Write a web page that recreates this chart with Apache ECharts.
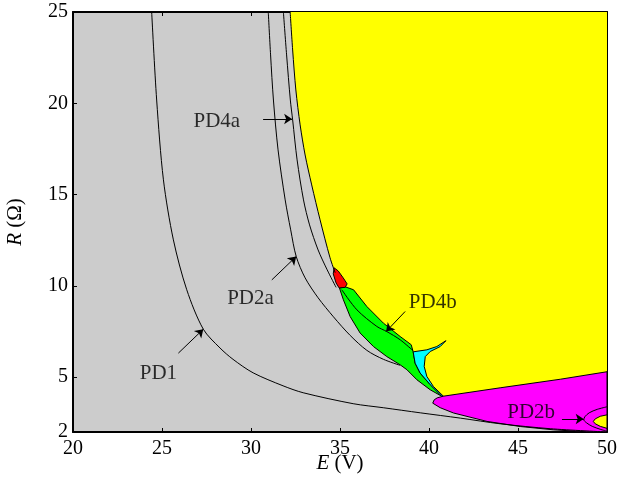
<!DOCTYPE html>
<html>
<head>
<meta charset="utf-8">
<script src="https://cdn.jsdelivr.net/npm/echarts@6/dist/echarts.min.js"></script>
<style>
  html, body { margin: 0; padding: 0; background: #fff; }
  #chart { width: 617px; height: 483px; }
</style>
</head>
<body>
<div id="chart"></div>
<script>
// axis ticks
var xTicks = [20, 25, 30, 35, 40, 45, 50];
var yLabels = [2, 5, 10, 15, 20, 25];
var yTicks = [5, 10, 15, 20];

// region boundaries, [E (V), R (ohm)]
var yellowEdge = [
  [32.20, 25.00], [32.34, 22.92], [32.52, 20.73], [32.76, 18.82], [33.04, 17.17],
  [33.41, 15.53], [33.88, 13.62], [34.44, 11.54], [34.73, 10.72]
];
var greenLower = [
  [34.97, 9.88], [35.19, 9.24], [35.57, 8.32], [36.13, 7.42], [36.88, 6.68],
  [37.63, 6.13], [38.38, 5.68], [38.76, 5.41], [39.32, 4.86], [40.07, 4.31], [40.73, 3.95]
];
var greenUpper = [
  [35.29, 9.95], [35.76, 9.79], [36.51, 8.87], [37.44, 7.96], [38.38, 7.23], [39.00, 6.78], [39.11, 6.39]
];
var cyanLeft = [[39.11, 6.39], [39.22, 5.77], [39.50, 5.23], [40.07, 4.59], [40.73, 3.95]];
var cyanRight = [
  [39.88, 6.50], [40.44, 6.68], [40.95, 7.00], [40.63, 6.68], [40.07, 6.41], [39.79, 6.13],
  [39.73, 5.59], [39.88, 5.04], [40.25, 4.49], [40.82, 3.95]
];
var redPatch = [
  [34.67, 10.99], [34.90, 10.82], [35.18, 10.44], [35.40, 10.11], [35.29, 9.92],
  [34.95, 9.89], [34.78, 10.16], [34.62, 10.66]
];
var magentaUpper = [[40.80, 3.96], [44.00, 4.42], [47.38, 4.89], [50.00, 5.30]];
var magentaLower = [
  [50.00, 2.00], [48.87, 2.01], [46.98, 2.12], [45.13, 2.30], [43.26, 2.58], [41.38, 3.04],
  [40.63, 3.33], [40.21, 3.58], [40.29, 3.76], [40.46, 3.87]
];

// bifurcation curves
var pd1Curve = [
  [24.42, 25.00], [24.70, 20.18], [25.08, 15.81], [25.64, 12.52], [26.39, 9.79], [27.32, 7.63],
  [28.26, 6.60], [28.99, 5.98], [30.12, 5.24], [31.80, 4.53], [32.93, 4.15], [35.74, 3.55],
  [37.43, 3.33], [39.51, 3.05], [41.76, 2.76], [44.00, 2.45], [46.81, 2.18], [50.00, 2.00]
];
var pd2aCurve = [
  [30.97, 25.00], [31.10, 22.65], [31.26, 20.18], [31.52, 17.45], [31.92, 14.71], [32.23, 13.07],
  [32.54, 11.61], [33.04, 10.44], [33.77, 9.35], [34.63, 8.31], [35.57, 7.29], [36.51, 6.47],
  [37.44, 5.98], [38.38, 5.65]
];
var pd4aCurve = [
  [31.82, 25.00], [32.00, 22.65], [32.21, 20.18], [32.34, 19.09], [32.59, 16.90], [32.95, 14.71],
  [33.29, 13.34], [33.77, 11.97], [34.28, 10.88], [34.78, 9.92]
];
var pd4bCurve = [[35.10, 9.79], [35.95, 8.69], [37.07, 7.78], [37.63, 7.50], [38.38, 7.05], [39.11, 6.45]];
var pd2bOuter = [
  [50.00, 3.38], [49.45, 3.24], [49.00, 3.05], [48.75, 2.83], [48.70, 2.67], [48.84, 2.51],
  [49.17, 2.31], [49.62, 2.15], [50.00, 2.04]
];
var pd2bInner = [
  [50.00, 2.94], [49.62, 2.86], [49.34, 2.72], [49.23, 2.58], [49.34, 2.45], [49.62, 2.31], [50.00, 2.20]
];

// annotations
var labelNames = ['PD4a', 'PD2a', 'PD1', 'PD4b', 'PD2b'];
var labelAt = [[28.08, 19.03], [29.97, 9.29], [24.80, 5.19], [40.21, 9.07], [45.74, 3.08]];
var arrowFrom = [[30.68, 19.14], [31.17, 10.33], [25.92, 6.32], [38.66, 8.60], [47.47, 2.71]];
var arrowTo = [[32.31, 19.14], [32.54, 11.61], [27.32, 7.63], [37.59, 7.50], [48.69, 2.71]];

var serif = 'Liberation Serif';

function polygon(pts, color, stroke) {
  return {
    type: 'custom',
    coordinateSystem: 'cartesian2d',
    data: [[35, 10]],
    silent: true,
    clip: true,
    renderItem: function (params, api) {
      return {
        type: 'polygon',
        shape: { points: pts.map(function (p) { return api.coord(p); }) },
        style: { fill: color, stroke: stroke === false ? null : '#000', lineWidth: 1 }
      };
    }
  };
}

function curve(pts) {
  return {
    type: 'line',
    data: pts,
    showSymbol: false,
    silent: true,
    smooth: 0.3,
    lineStyle: { color: '#000', width: 1 }
  };
}

var yellowPatch = yellowEdge.concat(greenLower, magentaUpper, [[50, 25]]);
var greenPatch = greenLower.concat(cyanLeft.slice().reverse().slice(1), greenUpper.slice(0, -1).reverse());
var cyanPatch = cyanLeft.slice(0, 1).concat(cyanRight, cyanLeft.slice().reverse().slice(0, -1));
var magentaPatch = magentaUpper.concat(magentaLower);

var chart = echarts.init(document.getElementById('chart'));

chart.setOption({
  animation: false,
  backgroundColor: '#fff',
  grid: {
    left: 73, right: 10, top: 12, bottom: 51, outerBoundsMode: 'none', containLabel: false,
    show: true, backgroundColor: '#cccccc', borderWidth: 0
  },
  xAxis: [{
    type: 'value', min: 20, max: 50, interval: 5,
    name: '{i|E} (V)', nameLocation: 'middle', nameGap: 21, nameMoveOverlap: false,
    nameTextStyle: {
      fontFamily: serif, fontSize: 21, color: '#000',
      rich: { i: { fontFamily: serif, fontSize: 21, fontStyle: 'italic', color: '#000' } }
    },
    axisLine: { onZero: false, lineStyle: { color: '#000', width: 2 } },
    axisTick: { inside: true, length: 4, lineStyle: { color: '#000' } },
    axisLabel: { margin: 7, fontFamily: serif, fontSize: 20, color: '#000', customValues: xTicks },
    splitLine: { show: false }
  }, {
    type: 'value', min: 20, max: 50, interval: 5, position: 'top',
    axisLine: { onZero: false, lineStyle: { color: '#000', width: 2 } },
    axisTick: { inside: true, length: 4, lineStyle: { color: '#000' } },
    axisLabel: { show: false },
    splitLine: { show: false }
  }],
  yAxis: [{
    type: 'value', min: 2, max: 25,
    name: '{i|R} (Ω)', nameLocation: 'middle', nameGap: 47, nameRotate: 90, nameMoveOverlap: false,
    nameTextStyle: {
      fontFamily: serif, fontSize: 21, color: '#000',
      rich: { i: { fontFamily: serif, fontSize: 21, fontStyle: 'italic', color: '#000' } }
    },
    axisLine: { onZero: false, lineStyle: { color: '#000', width: 2 } },
    axisTick: { inside: true, length: 4, lineStyle: { color: '#000' }, customValues: yTicks },
    axisLabel: { margin: 5, fontFamily: serif, fontSize: 20, color: '#000', customValues: yLabels },
    splitLine: { show: false }
  }, {
    type: 'value', min: 2, max: 25, position: 'right',
    axisLine: { onZero: false, lineStyle: { color: '#000', width: 2 } },
    axisTick: { inside: true, length: 4, lineStyle: { color: '#000' }, customValues: yTicks },
    axisLabel: { show: false },
    splitLine: { show: false }
  }],
  series: [
    polygon(yellowPatch, '#ffff00', false),
    curve(yellowEdge),
    curve(pd1Curve),
    curve(pd2aCurve),
    curve(pd4aCurve),
    polygon(greenPatch, '#00ff00'),
    polygon(cyanPatch, '#00ffff'),
    polygon(redPatch, '#ff0000'),
    curve(pd4bCurve),
    polygon(magentaPatch, '#ff00ff'),
    curve(pd2bOuter),
    polygon(pd2bInner, '#ffff00'),
    {
      type: 'lines',
      coordinateSystem: 'cartesian2d',
      silent: true,
      symbol: ['none', 'arrow'],
      symbolSize: 8,
      lineStyle: { color: '#000', width: 1, opacity: 1 },
      data: arrowFrom.map(function (p, i) { return { coords: [p, arrowTo[i]] }; })
    },
    {
      type: 'scatter',
      silent: true,
      symbolSize: 0,
      data: labelAt.map(function (p, i) { return { name: labelNames[i], value: p }; }),
      label: {
        show: true, position: 'inside', formatter: '{b}',
        fontFamily: serif, fontSize: 21, color: '#000'
      }
    }
  ]
});
</script>
</body>
</html>
